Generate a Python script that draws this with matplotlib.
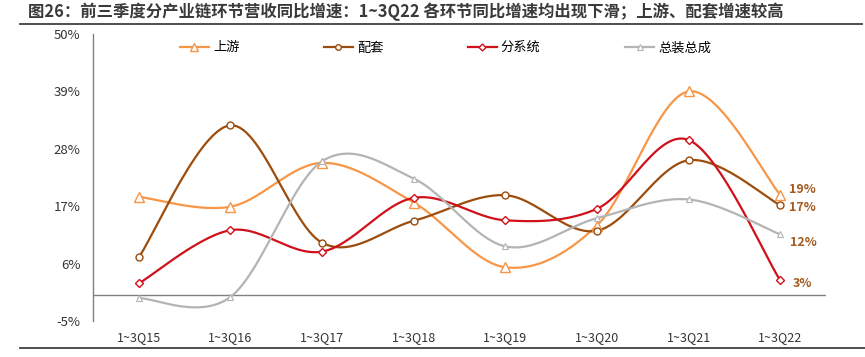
import numpy as np
import matplotlib
matplotlib.use('Agg')
import matplotlib.pyplot as plt

plt.rcParams['font.family'] = ['Noto Sans CJK SC', 'DejaVu Sans']

# data (%)
quarters = ['1~3Q15', '1~3Q16', '1~3Q17', '1~3Q18', '1~3Q19', '1~3Q20', '1~3Q21', '1~3Q22']
upstream = [18.8, 16.9, 25.3, 17.7, 5.3, 13.3, 39.0, 19.2]
supporting = [7.2, 32.5, 10.0, 14.2, 19.1, 12.3, 25.8, 17.2]
subsystem = [2.2, 12.4, 8.3, 18.6, 14.3, 16.5, 29.7, 2.8]
assembly = [-0.6, -0.4, 25.6, 22.3, 9.3, 14.7, 18.3, 11.6]
series_names = ['上游', '配套', '分系统', '总装总成']
y_ticks = [-5, 6, 17, 28, 39, 50]

title = '图26：前三季度分产业链环节营收同比增速：1~3Q22 各环节同比增速均出现下滑；上游、配套增速较高'


def smooth(xs, ys, n=30):
    """ Excel style smoothed line (bezier through the points). """
    p = np.column_stack([xs, ys]).astype(float)
    p = np.vstack([p[0], p, p[-1]])
    t = np.linspace(0, 1, n)[:, None]
    out = []
    for i in range(1, len(p) - 2):
        b0 = p[i]
        b3 = p[i + 1]
        b1 = b0 + (p[i + 1] - p[i - 1]) / 6
        b2 = b3 - (p[i + 2] - p[i]) / 6
        seg = ((1 - t) ** 3) * b0 + 3 * ((1 - t) ** 2) * t * b1 + 3 * (1 - t) * t ** 2 * b2 + t ** 3 * b3
        out.append(seg if i == 1 else seg[1:])
    out = np.vstack(out)
    return out[:, 0], out[:, 1]


fig = plt.figure(figsize=(8.65, 3.57), dpi=100)
ax = fig.add_axes([93 / 865, 36 / 357, (826 - 93) / 865, (321 - 34) / 357])

styles = [
    dict(color='#F79646', marker='^', ms=7, mew=1.0),
    dict(color='#9C4C0C', marker='o', ms=5, mew=1.0),
    dict(color='#D0101A', marker='D', ms=4.5, mew=1.0),
    dict(color='#B4B4B4', marker='^', ms=5, mew=0.8),
]
all_series = [upstream, supporting, subsystem, assembly]

x = np.arange(len(quarters))
handles = []
for vals, st, name in zip(all_series, styles, series_names):
    sx, sy = smooth(x, vals)
    ax.plot(sx, sy, color=st['color'], lw=1.6, zorder=2)
    ax.plot(x, vals, ls='none', marker=st['marker'], ms=st['ms'], mfc='white',
            mec=st['color'], mew=st['mew'], zorder=3)
    h, = ax.plot([], [], color=st['color'], lw=1.6, marker=st['marker'], ms=st['ms'] - 1,
                 mfc='white', mec=st['color'], mew=st['mew'], label=name)
    handles.append(h)

# end labels (order: 上游, 配套, 分系统, 总装总成)
label_color = '#A35A1E'
offsets = [(6, 3.5), (6, -2), (9, -2.5), (7, -5.5)]
for vals, off in zip(all_series, offsets):
    ax.annotate('{:.0f}%'.format(vals[-1]), (x[-1], vals[-1]), xytext=off,
                textcoords='offset points', ha='left', va='center',
                fontsize=9, fontweight='bold', color=label_color)

ax.axhline(0, color='#808080', lw=1.0, zorder=1)
ax.set_xlim(-0.5, 7.5)
ax.set_ylim(-5, 50)
ax.set_yticks(y_ticks)
ax.set_yticklabels(['{}%'.format(v) for v in y_ticks], fontsize=9.5, color='#333333')
ax.set_xticks(x)
ax.set_xticklabels(quarters, fontsize=9, color='#333333')
ax.tick_params(axis='both', length=0)
ax.tick_params(axis='y', pad=9)
ax.tick_params(axis='x', pad=7.5)
for s in ['top', 'right', 'bottom']:
    ax.spines[s].set_visible(False)
ax.spines['left'].set_color('#808080')
ax.spines['left'].set_linewidth(1.0)

fig.legend(handles=handles, loc='center', bbox_to_anchor=(0.515, 1 - 48 / 357), ncol=4,
           frameon=False, fontsize=9.5, handlelength=2.2, columnspacing=6.4,
           handletextpad=0.3)

# title and rules
fig.text(28 / 865, 1 - 12 / 357, title, fontsize=11.8, fontweight='bold', color='#3A3A3A',
         ha='left', va='center')
fig.add_artist(plt.Line2D([20 / 865, 862 / 865], [1 - 24 / 357, 1 - 24 / 357],
                          color='#404040', lw=1.3, transform=fig.transFigure))
fig.add_artist(plt.Line2D([20 / 865, 865 / 865], [1 - 348 / 357, 1 - 348 / 357],
                          color='#404040', lw=1.3, transform=fig.transFigure))

fig.savefig('out.png', dpi=100)
